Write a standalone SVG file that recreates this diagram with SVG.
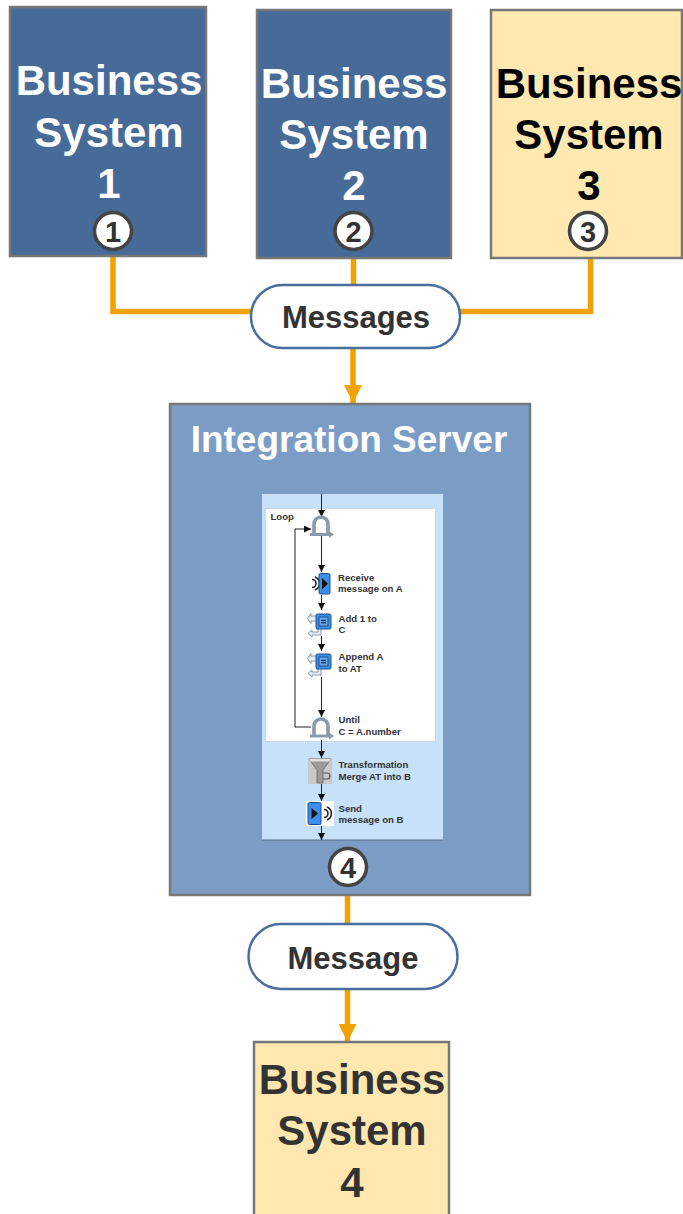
<svg xmlns="http://www.w3.org/2000/svg" width="683" height="1214" viewBox="0 0 683 1214">
<style>
.big{font-family:"Liberation Sans",Arial,sans-serif;font-weight:bold;font-size:42px;text-anchor:middle}
.pilltxt{font-family:"Liberation Sans",Arial,sans-serif;font-weight:bold;font-size:31px;fill:#333;text-anchor:middle}
.num{font-family:"Liberation Sans",Arial,sans-serif;font-weight:bold;font-size:29px;fill:#333;text-anchor:middle}
.small{font-family:"Liberation Sans",Arial,sans-serif;font-weight:bold;font-size:9.6px;fill:#333}
.badge{fill:#fff;stroke:#444;stroke-width:3.5}
.box{stroke:#777;stroke-width:2.5}
.pill{fill:#fff;stroke:#4a6e9f;stroke-width:2.5}
.orange{stroke:#f2a200;stroke-width:5.5;fill:none}
.flow{stroke:#222;stroke-width:1;fill:none}
.blueic{fill:#3c8fe8;stroke:#1d4f8f;stroke-width:1}
</style>
<defs>
<marker id="oa" viewBox="0 0 18 18" refX="18" refY="9" markerWidth="18" markerHeight="18" markerUnits="userSpaceOnUse" orient="auto">
<path d="M0,0 L18,9 L0,18 Z" fill="#f2a200"/>
</marker>
<marker id="ka" viewBox="0 0 8 8" refX="8" refY="4" markerWidth="7" markerHeight="7" markerUnits="userSpaceOnUse" orient="auto">
<path d="M0,0 L8,4 L0,8 Z" fill="#111"/>
</marker>
</defs>

<g id="connectors">
<polyline class="orange" points="113,256 113,311.5 252,311.5"/>
<line class="orange" x1="353.5" y1="258" x2="353.5" y2="286"/>
<polyline class="orange" points="590.5,258 590.5,311.5 459,311.5"/>
<line class="orange" x1="353" y1="348" x2="353" y2="403" marker-end="url(#oa)"/>
<line class="orange" x1="347.5" y1="896" x2="347.5" y2="925"/>
<line class="orange" x1="347.5" y1="989" x2="347.5" y2="1042" marker-end="url(#oa)"/>
</g>

<g id="bs1">
<rect class="box" x="10" y="7" width="196" height="249" fill="#476b98"/>
<text class="big" x="109" y="95" fill="#fff">Business</text>
<text class="big" x="109" y="147" fill="#fff">System</text>
<text class="big" x="109" y="198" fill="#fff">1</text>
<circle class="badge" cx="113" cy="231" r="18.5"/>
<text class="num" x="113" y="241.5">1</text>
</g>

<g id="bs2">
<rect class="box" x="257" y="10" width="194" height="248" fill="#476b98"/>
<text class="big" x="354" y="98" fill="#fff">Business</text>
<text class="big" x="354" y="149" fill="#fff">System</text>
<text class="big" x="354" y="200" fill="#fff">2</text>
<circle class="badge" cx="353.5" cy="231" r="18.5"/>
<text class="num" x="353.5" y="241.5">2</text>
</g>

<g id="bs3">
<rect class="box" x="491" y="10" width="191" height="248" fill="#ffe9b1"/>
<text class="big" x="589" y="98" fill="#000">Business</text>
<text class="big" x="589" y="149" fill="#000">System</text>
<text class="big" x="589" y="200" fill="#000">3</text>
<circle class="badge" cx="588" cy="231" r="18.5"/>
<text class="num" x="588" y="241.5">3</text>
</g>

<g id="messages">
<rect class="pill" x="251" y="285" width="209" height="63" rx="31.5"/>
<text class="pilltxt" x="356" y="328">Messages</text>
</g>

<g id="integration-server">
<rect class="box" x="170" y="404" width="360" height="491" fill="#7b9dc5"/>
<text x="349" y="452" font-family="'Liberation Sans',Arial,sans-serif" font-weight="bold" font-size="37px" fill="#fff" text-anchor="middle">Integration Server</text>
<rect x="262" y="494" width="181" height="346" fill="#c7e1f9"/>
<line x1="262" y1="840" x2="443" y2="840" stroke="#5a6f86" stroke-width="1"/>
<rect x="265.5" y="508.5" width="170" height="233" fill="#fff" stroke="#d0d8e0" stroke-width="1"/>

<line class="flow" x1="321.5" y1="494" x2="321.5" y2="517" marker-end="url(#ka)"/>
<line class="flow" x1="321.5" y1="536" x2="321.5" y2="572" marker-end="url(#ka)"/>
<line class="flow" x1="321.5" y1="595" x2="321.5" y2="610" marker-end="url(#ka)"/>
<line class="flow" x1="321.5" y1="636" x2="321.5" y2="651" marker-end="url(#ka)"/>
<line class="flow" x1="321.5" y1="677" x2="321.5" y2="717" marker-end="url(#ka)"/>
<line class="flow" x1="321.5" y1="740" x2="321.5" y2="758" marker-end="url(#ka)"/>
<line class="flow" x1="321.5" y1="784" x2="321.5" y2="801" marker-end="url(#ka)"/>
<line class="flow" x1="321.5" y1="826" x2="321.5" y2="840" marker-end="url(#ka)"/>
<polyline class="flow" points="311,727 295,727 295,529 311,529" stroke="#444" marker-end="url(#ka)"/>

<text class="small" x="270.5" y="520">Loop</text>

<g id="loop-icon">
<path d="M314,533 L314,524 A7,7 0 0 1 328,524 L328,533" fill="none" stroke="#8a9aab" stroke-width="3.6"/>
<path d="M310,534.5 L331,534.5" stroke="#8a9aab" stroke-width="3"/>
<path d="M329,531 L334,534.5 L329,538 Z" fill="#8a9aab"/>
</g>

<g id="receive-icon">
<path d="M312,579.5 a4,4 0 0 1 0,8" fill="none" stroke="#222" stroke-width="1.6"/>
<path d="M315,577 a7,7 0 0 1 0,13" fill="none" stroke="#222" stroke-width="1.6"/>
<rect class="blueic" x="319" y="573.5" width="11" height="20.5" rx="1.5"/>
<path d="M322,578 L328,583.7 L322,589.5 Z" fill="#111"/>
</g>
<text class="small" x="338" y="581">Receive</text>
<text class="small" x="338" y="592">message on A</text>

<g id="add-icon">
<path d="M317,616 L311,616 L311,613.5 L307.5,618.5 L311,623.5 L311,621 L317,621 Z" fill="#e8eef4" stroke="#8a9aab" stroke-width="1"/>
<path d="M318,628 L318,632 L312,632 L312,630 L308,633.5 L312,637 L312,635 L321,635 L321,628" fill="#e8eef4" stroke="#8a9aab" stroke-width="1"/>
<rect class="blueic" x="316" y="614" width="15" height="15" rx="1.5"/>
<rect x="319" y="617" width="9" height="9" fill="#5fa8f0" stroke="#1d3f70" stroke-width="0.8"/>
<path d="M321,620.3 L326,620.3 M321,622.8 L326,622.8" stroke="#111" stroke-width="1"/>
</g>
<text class="small" x="338.5" y="622">Add 1 to</text>
<text class="small" x="338.5" y="633">C</text>

<g id="append-icon">
<path d="M317,656 L311,656 L311,653.5 L307.5,658.5 L311,663.5 L311,661 L317,661 Z" fill="#e8eef4" stroke="#8a9aab" stroke-width="1"/>
<path d="M318,668 L318,672 L312,672 L312,670 L308,673.5 L312,677 L312,675 L321,675 L321,668" fill="#e8eef4" stroke="#8a9aab" stroke-width="1"/>
<rect class="blueic" x="316" y="654" width="15" height="15" rx="1.5"/>
<rect x="319" y="657" width="9" height="9" fill="#5fa8f0" stroke="#1d3f70" stroke-width="0.8"/>
<path d="M321,660.3 L326,660.3 M321,662.8 L326,662.8" stroke="#111" stroke-width="1"/>
</g>
<text class="small" x="338.5" y="660">Append A</text>
<text class="small" x="338.5" y="672">to AT</text>

<g id="until-icon">
<path d="M314,735 L314,726 A7,7 0 0 1 328,726 L328,735" fill="none" stroke="#8a9aab" stroke-width="3.6"/>
<path d="M310,736 L331,736" stroke="#8a9aab" stroke-width="3"/>
<path d="M329,732.5 L334,736 L329,739.5 Z" fill="#8a9aab"/>
</g>
<text class="small" x="338.5" y="723">Until</text>
<text class="small" x="338.5" y="735">C = A.number</text>

<g id="transform-icon">
<rect x="308" y="758" width="24" height="26" fill="#c9c9c9"/>
<path d="M309,759 L331,759 L323,770 L323,783 L317,783 L317,770 Z" fill="#9a9a9a" stroke="#666" stroke-width="0.8"/>
<path d="M309,759 L331,759 L329.5,761.5 L310.5,761.5 Z" fill="#e0e0e0"/>
<path d="M323,773 L327,773 Q330,773 330,776 Q330,779 327,779 L323,779" fill="none" stroke="#555" stroke-width="1.2"/>
</g>
<text class="small" x="338.5" y="768">Transformation</text>
<text class="small" x="338.5" y="780">Merge AT into B</text>

<g id="send-icon">
<rect x="306" y="801" width="28" height="25" fill="#fff"/>
<rect class="blueic" x="308" y="802.5" width="13" height="22" rx="1.5"/>
<path d="M311.5,808 L318,813.5 L311.5,819 Z" fill="#111"/>
<path d="M324,809.5 a4,4 0 0 1 0,8" fill="none" stroke="#222" stroke-width="1.6"/>
<path d="M327,807 a7,7 0 0 1 0,13" fill="none" stroke="#222" stroke-width="1.6"/>
</g>
<text class="small" x="338.5" y="812">Send</text>
<text class="small" x="338.5" y="823">message on B</text>

<circle class="badge" cx="348" cy="867" r="18.5"/>
<text class="num" x="348" y="877.5">4</text>
</g>

<g id="message">
<rect class="pill" x="248.5" y="924" width="209" height="65" rx="32.5"/>
<text class="pilltxt" x="353" y="969">Message</text>
</g>

<g id="bs4">
<rect class="box" x="254" y="1042" width="195" height="180" fill="#fee8af"/>
<text class="big" x="352" y="1094" fill="#333">Business</text>
<text class="big" x="352" y="1145" fill="#333">System</text>
<text class="big" x="352" y="1197" fill="#333">4</text>
</g>
</svg>
